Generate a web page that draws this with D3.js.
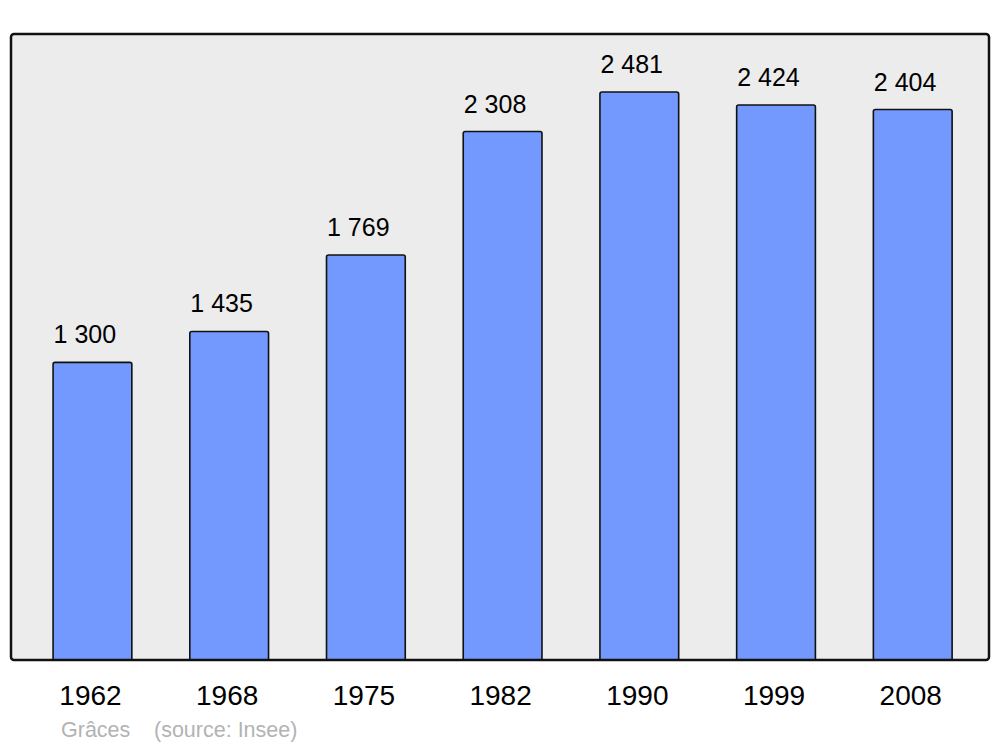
<!DOCTYPE html>
<html>
<head>
<meta charset="utf-8">
<script src="https://cdn.jsdelivr.net/npm/d3@7"></script>
<style>
  html, body { margin: 0; padding: 0; background: #ffffff; }
  svg { display: block; }
  text { font-family: "Liberation Sans", Arial, sans-serif; }
</style>
</head>
<body>
<svg id="chart" width="1000" height="747"></svg>
<script>
const years = ["1962", "1968", "1975", "1982", "1990", "1999", "2008"];
const population = [1300, 1435, 1769, 2308, 2481, 2424, 2404];
const valueLabels = ["1 300", "1 435", "1 769", "2 308", "2 481", "2 424", "2 404"];
const sourceLabels = ["Grâces", "(source: Insee)"];
const yMax = 2734;

const svg = d3.select("#chart");

const panel = { x0: 11, x1: 989, y0: 34, y1: 660 };

const x = d3.scaleBand()
  .domain(years)
  .range([24.1, 981.1])
  .paddingInner(0.424)
  .paddingOuter(0.212);

const y = d3.scaleLinear()
  .domain([0, yMax])
  .range([panel.y1, panel.y0]);

// panel background
svg.append("rect")
  .attr("x", panel.x0)
  .attr("y", panel.y0)
  .attr("width", panel.x1 - panel.x0)
  .attr("height", panel.y1 - panel.y0)
  .attr("rx", 3)
  .attr("fill", "#ececec");

// bars
svg.append("g").selectAll("rect")
  .data(years)
  .join("rect")
  .attr("x", d => x(d))
  .attr("y", (d, i) => y(population[i]))
  .attr("width", x.bandwidth())
  .attr("height", (d, i) => y(0) - y(population[i]) + 3)
  .attr("rx", 2)
  .attr("fill", "#7399ff")
  .attr("stroke", "#111")
  .attr("stroke-width", 1.6);

// white area below baseline so bars don't extend
svg.append("rect")
  .attr("x", 0).attr("y", panel.y1)
  .attr("width", 1000).attr("height", 747 - panel.y1)
  .attr("fill", "#ffffff");

// panel border
svg.append("rect")
  .attr("x", panel.x0)
  .attr("y", panel.y0)
  .attr("width", panel.x1 - panel.x0)
  .attr("height", panel.y1 - panel.y0)
  .attr("rx", 3)
  .attr("fill", "none")
  .attr("stroke", "#111")
  .attr("stroke-width", 2.5);

// value labels
svg.append("g").selectAll("text")
  .data(years)
  .join("text")
  .attr("x", d => x(d) + 0.5)
  .attr("y", (d, i) => y(population[i]) - 19)
  .attr("font-size", 25)
  .attr("fill", "#000")
  .text((d, i) => valueLabels[i]);

// year axis
const xAxis = d3.axisBottom(x).tickSize(0).tickPadding(0);
const gx = svg.append("g")
  .attr("transform", `translate(-2, ${panel.y1})`)
  .call(xAxis);
gx.select(".domain").remove();
gx.selectAll("text")
  .attr("y", 45)
  .attr("dy", null)
  .attr("font-size", 28)
  .attr("font-family", "'Liberation Sans', Arial, sans-serif")
  .attr("fill", "#000");

// source line
svg.append("text")
  .attr("x", 61).attr("y", 737)
  .attr("font-size", 21.5)
  .attr("fill", "#b3b3b3")
  .text(sourceLabels[0]);
svg.append("text")
  .attr("x", 154).attr("y", 737)
  .attr("font-size", 21.5)
  .attr("fill", "#b3b3b3")
  .text(sourceLabels[1]);
</script>
</body>
</html>
